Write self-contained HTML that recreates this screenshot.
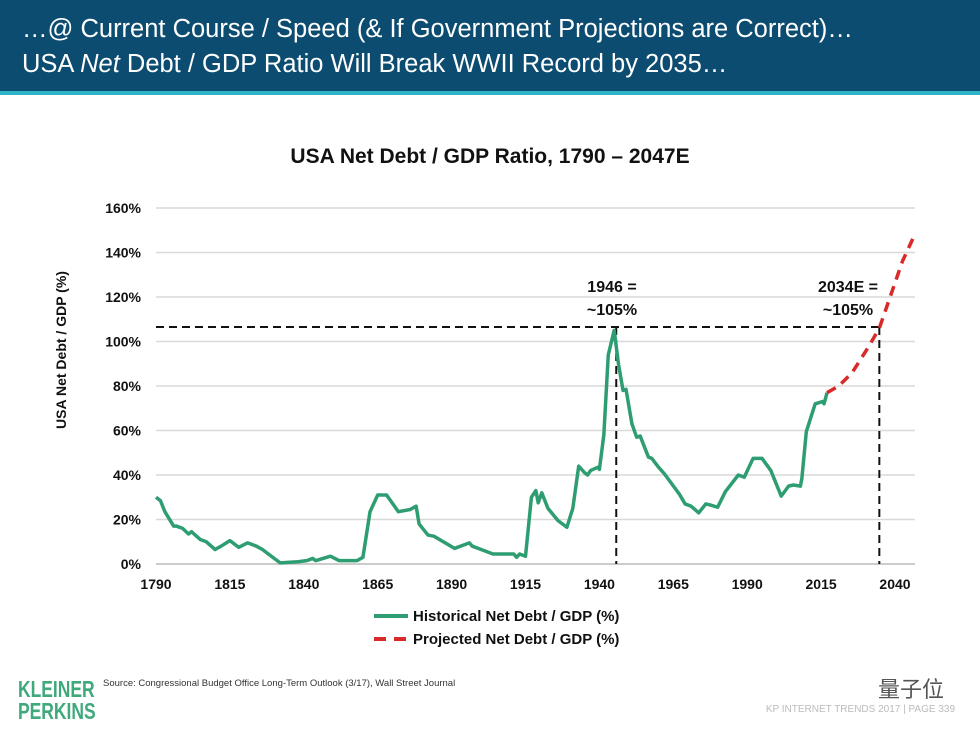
<!DOCTYPE html>
<html><head><meta charset="utf-8"><style>
body{margin:0;width:980px;height:735px;background:#fff;font-family:"Liberation Sans",Arial,sans-serif;overflow:hidden;position:relative}
.hdr{position:absolute;left:0;top:0;width:980px;height:91px;background:#0c4c70;border-bottom:4px solid #2eb3c9}
.hdr div{position:absolute;left:22px;color:#fff;font-size:25.5px;white-space:nowrap}
svg{position:absolute;left:0;top:0}
</style></head><body>
<div class="hdr">
<div style="top:15px">…@ Current Course / Speed (&amp; If Government Projections are Correct)…</div>
<div style="top:50px">USA <i>Net</i> Debt / GDP Ratio Will Break WWII Record by 2035…</div>
</div>
<svg width="980" height="735" id="chart"></svg>
<script>
const yTicks=[0,20,40,60,80,100,120,140,160];
const xTicks=[1790,1815,1840,1865,1890,1915,1940,1965,1990,2015,2040];
const histYears=[1790,1791.5,1793,1796,1797,1799,1801,1802,1805,1807,1810,1812,1815,1818,1821,1824,1826,1832,1838,1841,1843,1844,1849,1852,1858,1860,1862.4,1865,1868,1872,1876,1878,1879,1882,1884,1891,1896,1897,1901,1904,1911,1912,1913,1915,1917,1918.5,1919.3,1920.5,1922.6,1926,1929,1931,1933,1935,1936,1937,1939.5,1940,1941.5,1943,1945,1946.5,1948,1949,1951,1952.6,1953.8,1956.6,1957.7,1960,1962,1967,1969,1971,1973.6,1976,1977.6,1980,1982.6,1987,1989,1992,1995,1998,2001.5,2004,2005.6,2008,2008.5,2010,2013,2015.5,2016,2017];
const histValues=[30,28.5,23.5,17,17,16,13.5,14.5,11,10,6.5,8,10.5,7.5,9.5,8,6.5,0.5,1,1.5,2.5,1.5,3.5,1.5,1.5,3,23.5,31,31,23.5,24.5,26,18,13,12.5,7,9.5,8,6,4.5,4.5,3,4.5,3.5,30,33,27.5,32,25,19.5,16.5,25,44,41,40,42,43.5,42.5,58,94,105,89.5,78,78.5,63,57,57.5,48,47.5,43.5,40.5,31.5,27,26,23,27,26.5,25.5,32.5,40,39,47.5,47.5,42,30.5,35,35.5,35,38.5,59.5,72,73,72,77];
const projYears=[2017,2021,2025.5,2031,2034.7,2039,2042.5,2047];
const projValues=[77,80,86,97.5,106,122.5,136,149];
const refYear1=1945.7, refYear2=2034.7, refValue=106.5;

const X=y=>156+(y-1790)*(739/250);
const Y=v=>564-v*(356/160);
const svg=document.getElementById('chart');
const NS='http://www.w3.org/2000/svg';
function mk(t,a){const e=document.createElementNS(NS,t);for(const k in a)e.setAttribute(k,a[k]);svg.appendChild(e);return e;}
function txt(s,a){const e=mk('text',a);e.textContent=s;return e;}

for(const v of yTicks){
 const g=mk('line',{x1:156,x2:915,y1:Y(v),y2:Y(v),stroke:v===0?'#bbb':'#d9d9d9','stroke-width':1.5});
 
 
 const t=txt(v+'%',{x:141,y:Y(v)+5,'text-anchor':'end','font-size':14,'font-weight':'bold',fill:'#111'});
 
 
}
for(const yr of xTicks){
 const t=txt(yr,{x:X(yr),y:589,'text-anchor':'middle','font-size':14,'font-weight':'bold',fill:'#111'});
 
 
}
const yt=txt('USA Net Debt / GDP (%)',{x:0,y:0,transform:'translate(66,350) rotate(-90)','text-anchor':'middle','font-size':14,'font-weight':'bold',fill:'#111'});


const ct=txt('USA Net Debt / GDP Ratio, 1790 – 2047E',{x:490,y:163,'text-anchor':'middle','font-size':21,'font-weight':'bold',fill:'#111'});



const h=mk('line',{x1:156,x2:X(refYear2),y1:Y(refValue),y2:Y(refValue),stroke:'#111','stroke-width':2,'stroke-dasharray':'8,5'});


const v1=mk('line',{x1:X(refYear1),x2:X(refYear1),y1:Y(refValue),y2:564,stroke:'#111','stroke-width':2,'stroke-dasharray':'8,5'});


const v2=mk('line',{x1:X(refYear2),x2:X(refYear2),y1:Y(refValue),y2:564,stroke:'#111','stroke-width':2,'stroke-dasharray':'8,5'});



const hp=mk('polyline',{points:histYears.map((y,i)=>X(y)+','+Y(histValues[i])).join(' '),fill:'none',stroke:'#2e9e72','stroke-width':3.5,'stroke-linejoin':'round'});


const pp=mk('polyline',{points:projYears.map((y,i)=>X(y)+','+Y(projValues[i])).join(' '),fill:'none',stroke:'#d92a2a','stroke-width':3.5,'stroke-dasharray':'10,7'});



const a1=txt('1946 =',{x:612,y:292,'text-anchor':'middle','font-size':16,'font-weight':'bold',fill:'#111'});


const a2=txt('~105%',{x:612,y:315,'text-anchor':'middle','font-size':16,'font-weight':'bold',fill:'#111'});


const a3=txt('2034E =',{x:848,y:292,'text-anchor':'middle','font-size':16,'font-weight':'bold',fill:'#111'});


const a4=txt('~105%',{x:848,y:315,'text-anchor':'middle','font-size':16,'font-weight':'bold',fill:'#111'});



const l1=mk('line',{x1:374,x2:408,y1:616,y2:616,stroke:'#2e9e72','stroke-width':4});


const lt1=txt('Historical Net Debt / GDP (%)',{x:413,y:621,'font-size':15,'font-weight':'bold',fill:'#111'});


const l2=mk('line',{x1:374,x2:408,y1:639,y2:639,stroke:'#d92a2a','stroke-width':4,'stroke-dasharray':'12,8'});


const lt2=txt('Projected Net Debt / GDP (%)',{x:413,y:644,'font-size':15,'font-weight':'bold',fill:'#111'});



const k1=txt('KLEINER',{x:0,y:0,transform:'translate(18,697) scale(0.76,1)','font-size':23,'font-weight':'bold',fill:'#3fa97c'});


const k2=txt('PERKINS',{x:0,y:0,transform:'translate(18,719) scale(0.76,1)','font-size':23,'font-weight':'bold',fill:'#3fa97c'});


const src=txt('Source: Congressional Budget Office Long-Term Outlook (3/17), Wall Street Journal',{x:103,y:686,'font-size':9.5,fill:'#333'});


const ft=txt('KP INTERNET TRENDS 2017  |  PAGE 339',{x:955,y:712,'text-anchor':'end','font-size':10,fill:'#bbb'});


const wm=txt('量子位',{x:878,y:697,'font-size':22,fill:'#555'});
wm.setAttribute('font-family','"Liberation Sans","Noto Sans CJK SC",sans-serif');


</script>
</body></html>
